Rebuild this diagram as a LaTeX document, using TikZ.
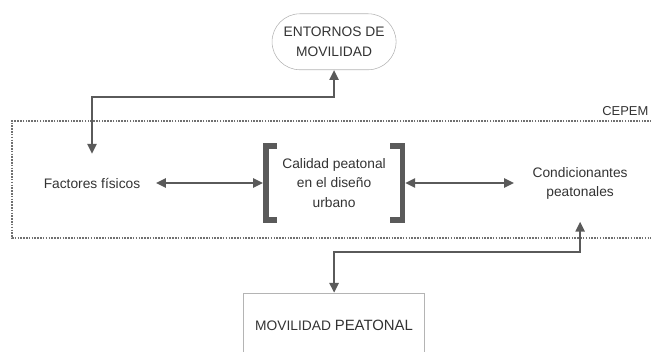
\documentclass[tikz,border=0pt]{standalone}
\usepackage{fontspec}
\setmainfont{Liberation Sans}
\usetikzlibrary{arrows.meta,calc}
\definecolor{arrgray}{HTML}{5A5A5A}
\definecolor{boxgray}{HTML}{B4B4B4}
\definecolor{txtgray}{HTML}{333333}
\definecolor{dotgray}{HTML}{707070}
\begin{document}
\begin{tikzpicture}[
  x=0.025cm, y=-0.025cm,
  lbl/.style={align=center, text=txtgray, font=\fontsize{9.8}{13.6}\selectfont, inner sep=1pt},
  pill/.style={lbl, draw=boxgray, rounded corners=0.7cm, minimum width=3.1cm, minimum height=1.4cm},
  link/.style={arrgray, line width=1.4pt, {Triangle[length=7pt,width=6.5pt]}-{Triangle[length=7pt,width=6.5pt]}},
  bracket/.style={arrgray, line width=4pt},
  cepemframe/.style={dotgray, line width=1pt, dash pattern=on 1.1pt off 0.9pt},
  node distance=6cm
]
\useasboundingbox (0,0) rectangle (651,351);
\clip (0,0) rectangle (651,351);

\node[lbl] (fact) at (92,183) {Factores físicos};
\node[lbl, right of=fact, node distance=6.05cm, minimum width=3.4cm, minimum height=1.85cm] (cal) {Calidad peatonal\\en el diseño\\urbano};
\node[lbl, right of=cal, node distance=6.15cm] (cond) {Condicionantes\\peatonales};
\node[pill, above of=cal, node distance=3.53cm] (ent) {ENTORNOS DE\\MOVILIDAD};
\node[lbl, below of=cal, node distance=3.55cm, draw=boxgray, minimum width=4.53cm, minimum height=1.6cm] (mov) {MOVILIDAD {\fontsize{10.6}{12}\selectfont PEATONAL}};

% CEPEM area
\draw[cepemframe] (660,121) -- (12,121) -- (12,238) -- (660,238);
\node[lbl, anchor=south east, font=\fontsize{9.2}{11}\selectfont] (cepem) at (650,117) {CEPEM};

\draw[bracket] ($(cal.north west)+(11,0)$) -- (cal.north west) -- (cal.south west) -- ++(11,0);
\draw[bracket] ($(cal.north east)+(-12,0)$) -- (cal.north east) -- (cal.south east) -- ++(-12,0);

\coordinate (jtop) at (0,97);
\coordinate (jbot) at (0,252);
\draw[link, shorten <=10pt, shorten >=2pt] (fact) -- (cal);
\draw[link, shorten <=2pt, shorten >=12pt] (cal) -- (cond);
\draw[link, shorten <=16pt] (fact.north) -- (fact.north |- jtop) -| (ent.south);
\draw[link, shorten <=15pt] (cond.south) -- (cond.south |- jbot) -| (mov.north);
\end{tikzpicture}
\end{document}
